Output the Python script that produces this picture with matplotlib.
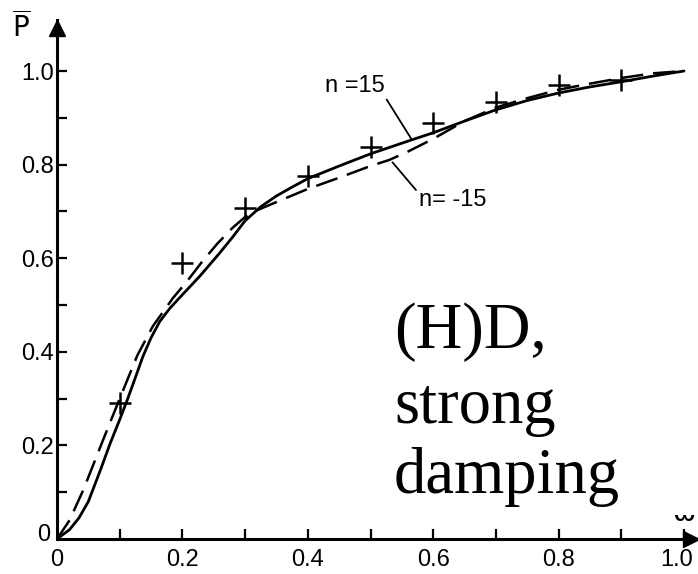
import numpy as np
import matplotlib
matplotlib.use('Agg')
import matplotlib.pyplot as plt
import matplotlib.transforms as mtrans
from matplotlib.patches import Rectangle
from matplotlib import font_manager

# Data
x_meas = [0.1, 0.2, 0.3, 0.4, 0.5, 0.6, 0.7, 0.8, 0.9]
p_meas = [0.29, 0.59, 0.707, 0.775, 0.837, 0.888, 0.933, 0.970, 0.981]

# n = 15 (solid)
x_pos = [0.0, 0.02, 0.035, 0.05, 0.07, 0.085, 0.1, 0.112, 0.125, 0.137, 0.15, 0.164,
         0.18, 0.2, 0.228, 0.26, 0.28, 0.30, 0.325, 0.35, 0.375, 0.4, 0.45, 0.5,
         0.566, 0.6, 0.65, 0.7, 0.75, 0.8, 0.85, 0.9, 0.95, 1.0]
p_pos = [0.0, 0.02, 0.045, 0.08, 0.15, 0.205, 0.255, 0.297, 0.345, 0.39, 0.43, 0.465,
         0.493, 0.522, 0.562, 0.612, 0.645, 0.68, 0.71, 0.733, 0.752, 0.77, 0.797, 0.823,
         0.853, 0.868, 0.893, 0.917, 0.937, 0.953, 0.966, 0.977, 0.989, 1.0]

# n = -15 (dashed)
x_neg = [0.0, 0.02, 0.042, 0.073, 0.097, 0.128, 0.153, 0.185, 0.207, 0.23, 0.255,
         0.28, 0.30, 0.32, 0.35, 0.4, 0.45, 0.5, 0.53, 0.56, 0.6, 0.65, 0.7, 0.75,
         0.8, 0.85, 0.9, 0.95, 1.0]
p_neg = [0.0, 0.04, 0.105, 0.21, 0.29, 0.392, 0.455, 0.515, 0.55, 0.59, 0.63,
         0.665, 0.688, 0.703, 0.72, 0.748, 0.772, 0.797, 0.81, 0.828, 0.855, 0.893,
         0.922, 0.942, 0.96, 0.973, 0.985, 0.995, 1.0]

tick_vals = [0.2, 0.4, 0.6, 0.8, 1.0]
tick_text = ['0.2', '0.4', '0.6', '0.8', '1.0']

# a narrow sans for the numbers if one is there
names = set(f.name for f in font_manager.fontManager.ttflist)
lab_font = ['Liberation Sans Narrow'] if 'Liberation Sans Narrow' in names else ['Liberation Sans']
lab_kw = dict(family=lab_font, stretch='condensed')

fig = plt.figure(figsize=(6.98, 5.74), dpi=100)
W, H = 698., 574.
x0, x1 = 57., 684.     # pixel position of 0 and 1.0 on x
y0, y1 = 539., 71.     # pixel position of 0 and 1.0 on y (from top)
sx = x1 - x0
sy = y0 - y1
left, right = x0, 697.
top, bottom = 20., y0
ax = fig.add_axes([left/W, (H-bottom)/H, (right-left)/W, (bottom-top)/H])
ax.set_xlim(0, (right-x0)/sx)
ax.set_ylim(0, (y0-top)/sy)

for s in ['top', 'right']:
    ax.spines[s].set_visible(False)
for s in ['left', 'bottom']:
    ax.spines[s].set_linewidth(2.2)

# arrow heads
ax.plot(0, 0.985, marker='^', ms=12, color='k', transform=ax.transAxes, clip_on=False)
ax.plot(0.99, 0, marker='>', ms=12, color='k', transform=ax.transAxes, clip_on=False)

ax.set_xticks(tick_vals)
ax.set_xticklabels(tick_text)
ax.set_yticks(tick_vals)
ax.set_yticklabels(tick_text)
ax.set_xticks(np.arange(1, 10)/10., minor=True)
ax.set_yticks(np.arange(1, 10)/10., minor=True)
ax.tick_params(which='both', direction='in', length=7, width=1.6, colors='k')
ax.tick_params(axis='x', pad=7)
ax.tick_params(axis='y', pad=2)
for lab in ax.get_xticklabels() + ax.get_yticklabels():
    lab.set_fontfamily(lab_font)
    lab.set_fontstretch('condensed')
    lab.set_fontsize(17)
# keep the last x label inside the picture
last = ax.get_xticklabels()[-1]
last.set_transform(last.get_transform() + mtrans.ScaledTranslation(-7/100., 0, fig.dpi_scale_trans))

# the two "0" labels
ax.text(-0.022, 0.008, '0', fontsize=17, ha='center', va='center', clip_on=False, **lab_kw)
ax.text(0.0, -0.045, '0', fontsize=17, ha='center', va='center', clip_on=False, **lab_kw)

# curves
ax.plot(x_pos, p_pos, color='k', lw=2.0, solid_joinstyle='round', solid_capstyle='round')
ax.plot(x_neg, p_neg, color='k', lw=1.8, dashes=(9, 4), dash_joinstyle='round')
ax.plot(x_meas, p_meas, ls='none', marker='+', ms=16, mew=1.8, color='k')

# annotations
ax.annotate('n =15', xy=(0.566, 0.853), xytext=(0.523, 0.945), fontsize=17,
            ha='right', va='bottom',
            arrowprops=dict(arrowstyle='-', color='k', lw=1.3, shrinkA=0, shrinkB=0,
                            relpos=(1.0, 0.0)), **lab_kw)
ax.annotate('n= -15', xy=(0.535, 0.805), xytext=(0.577, 0.748), fontsize=17,
            ha='left', va='top',
            arrowprops=dict(arrowstyle='-', color='k', lw=1.3, shrinkA=0, shrinkB=0,
                            relpos=(0.0, 0.8)), **lab_kw)

# axis labels
fig.text(21/W, 1 - 27/H, r'$\overline{\mathsf{P}}$', fontsize=20, ha='center', va='center')
ax.text(1.0, 0.055, '\u03c9', fontsize=20, ha='center', va='center',
        family='DejaVu Sans', clip_on=False)

# big label on a white patch
fig.patches.append(Rectangle((385/W, 1 - 515/H), (W-385)/W, 230/H, transform=fig.transFigure,
                             facecolor='white', edgecolor='none', zorder=2))
for txt, yb in zip(['(H)D,', 'strong', 'damping'], [348, 423, 493]):
    fig.text(394/W, 1 - yb/H, txt, fontsize=46.5, family='Liberation Serif',
             ha='left', va='baseline', zorder=3)

fig.savefig('out.png', dpi=100)
